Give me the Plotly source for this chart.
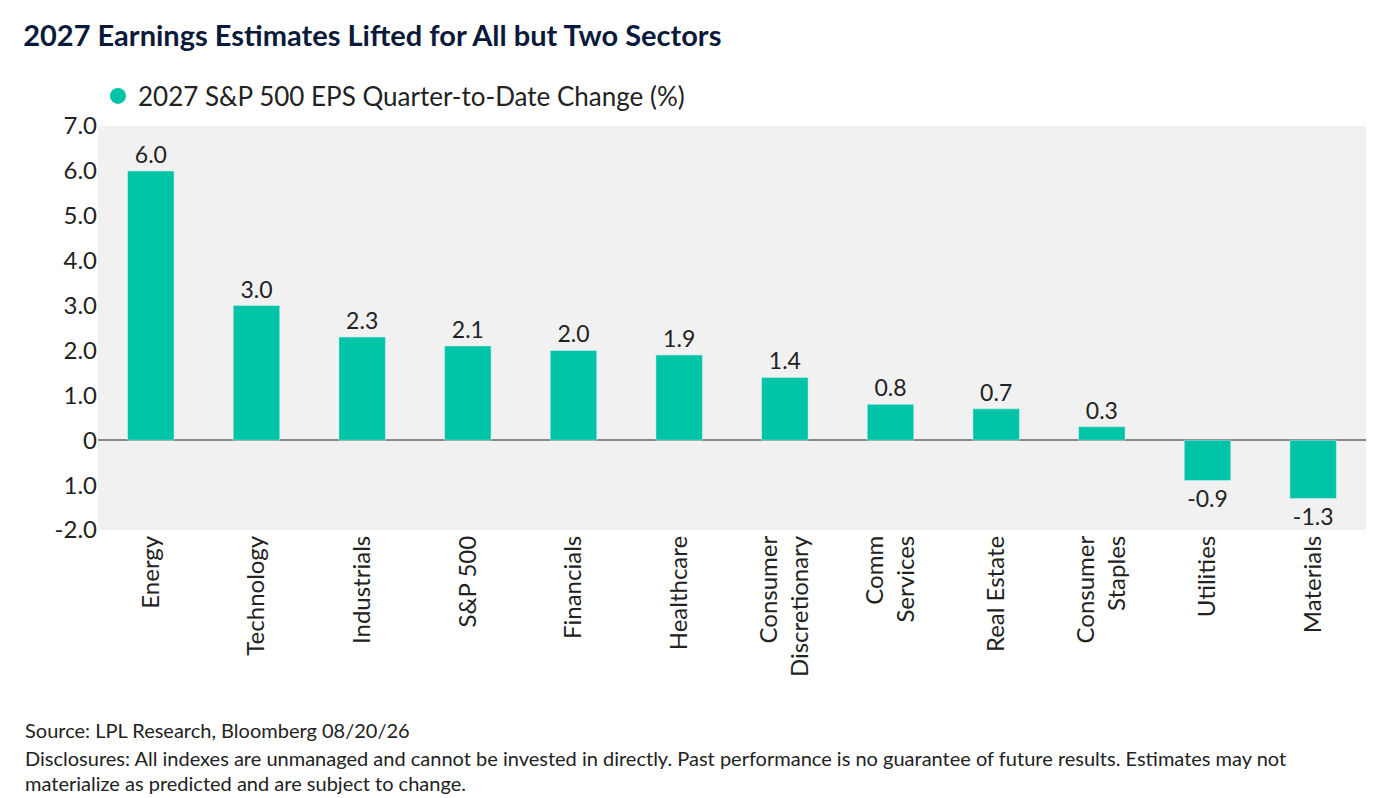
import plotly.graph_objects as go

sectors = ["Energy", "Technology", "Industrials", "S&P 500", "Financials", "Healthcare",
           "Consumer<br>Discretionary", "Comm<br>Services", "Real Estate",
           "Consumer<br>Staples", "Utilities", "Materials"]
eps_change = [6.0, 3.0, 2.3, 2.1, 2.0, 1.9, 1.4, 0.8, 0.7, 0.3, -0.9, -1.3]

tick_vals = [7, 6, 5, 4, 3, 2, 1, 0, -1, -2]
tick_text = ["7.0", "6.0", "5.0", "4.0", "3.0", "2.0", "1.0", "0", "1.0", "-2.0"]

BAR = "#00C4A8"
NAVY = "#0B1A3A"
FONT = "Lato"

fig = go.Figure()
fig.add_trace(go.Bar(
    x=sectors, y=eps_change, marker_color=BAR, width=0.44,
    text=[f"{v:.1f}" for v in eps_change], textposition="outside",
    textfont=dict(size=23, color="#222"), cliponaxis=False, showlegend=False))
# legend entry with a round marker
fig.add_trace(go.Scatter(
    x=[None], y=[None], mode="markers", name="2027 S&P 500 EPS Quarter-to-Date Change (%)",
    marker=dict(color=BAR, size=18, symbol="circle")))

fig.update_layout(
    width=1380, height=798,
    margin=dict(l=90, r=22, t=118, b=276, autoexpand=False),
    paper_bgcolor="white", plot_bgcolor="#F1F1F1",
    font=dict(family=FONT, color="#222"),
    title=dict(text="<b>2027 Earnings Estimates Lifted for All but Two Sectors</b>",
               x=0.011, xanchor="left", y=1 - 28 / 798, yanchor="middle",
               font=dict(size=29, color=NAVY)),
    legend=dict(orientation="h", x=0.0, xanchor="left", y=(522 - 88) / 404, yanchor="middle",
                font=dict(size=26, color="#222"), itemwidth=30),
    bargap=0.5,
    xaxis=dict(tickangle=-90, tickfont=dict(size=24, color="#222"), showgrid=False,
               ticks="", range=[-0.5, 11.5]),
    yaxis=dict(range=[-2, 7], tickvals=tick_vals, ticktext=tick_text, showgrid=False,
               tickfont=dict(size=24, color="#222"), zeroline=True,
               zerolinecolor="#888", zerolinewidth=1.5),
)

notes = [
    ("Source: LPL Research, Bloomberg 08/20/26", 722),
    ("Disclosures: All indexes are unmanaged and cannot be invested in directly. Past performance is no guarantee of future results. Estimates may not", 750),
    ("materialize as predicted and are subject to change.", 775),
]
for txt, ypix in notes:
    fig.add_annotation(text=txt, xref="paper", yref="paper", showarrow=False,
                       x=-75 / 1268, xanchor="left",
                       y=(798 - 276 - ypix) / (798 - 118 - 276), yanchor="middle",
                       font=dict(size=20, color="#222"))

fig.write_html("out.html")
